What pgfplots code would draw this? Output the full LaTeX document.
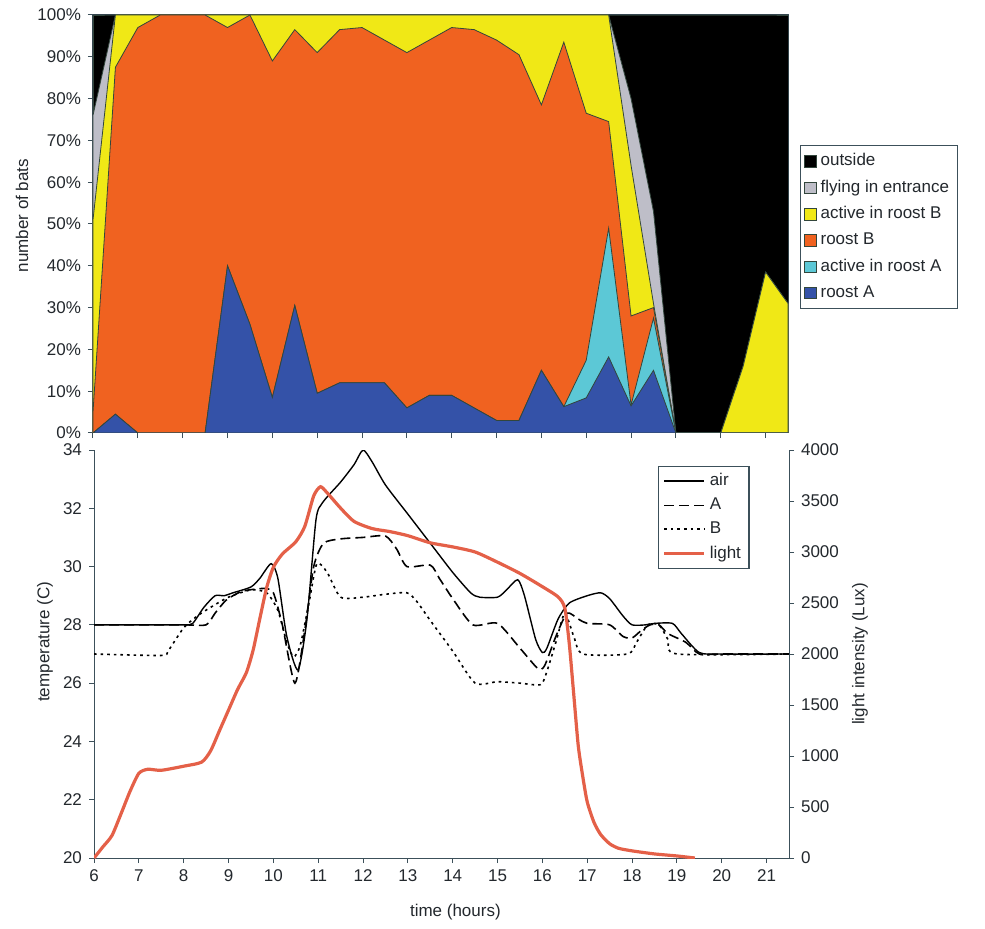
\documentclass[border=0pt]{standalone}
\usepackage{fontspec}
\setmainfont{Liberation Sans}
\usepackage{pgfplots}
\usepackage{pgfplotstable}
\pgfplotsset{compat=1.18}

\definecolor{outcol}{RGB}{0,0,0}
\definecolor{flycol}{RGB}{190,190,200}
\definecolor{actBcol}{RGB}{240,232,22}
\definecolor{roostBcol}{RGB}{240,98,32}
\definecolor{actAcol}{RGB}{92,200,214}
\definecolor{roostAcol}{RGB}{52,82,168}
\definecolor{edgecol}{RGB}{50,70,60}
\definecolor{axiscol}{RGB}{60,80,90}
\definecolor{textcol}{RGB}{35,40,45}
\definecolor{lightcol}{RGB}{228,96,72}

% cumulative boundaries of the stacked areas (percent of bats)
\pgfplotstableread{
x    out  fly   actB  rB    actA  rA
6    100  76    51    5     0     0
6.5  100  100   100   87.5  4.5   4.5
7    100  100   100   97    0     0
7.5  100  100   100   100   0     0
8    100  100   100   100   0     0
8.5  100  100   100   100   0     0
9    100  100   100   97    40    40
9.5  100  100   100   100   26    26
10   100  100   100   89    8.5   8.5
10.5 100  100   100   96.5  30.5  30.5
11   100  100   100   91    9.5   9.5
11.5 100  100   100   96.5  12    12
12   100  100   100   97    12    12
12.5 100  100   100   94    12    12
13   100  100   100   91    6     6
13.5 100  100   100   94    9     9
14   100  100   100   97    9     9
14.5 100  100   100   96.5  6     6
15   100  100   100   94    3     3
15.5 100  100   100   90.5  3     3
16   100  100   100   78.5  15    15
16.5 100  100   100   93.5  6.3   6.3
17   100  100   100   76.5  17.4  8.4
17.5 100  100   100   74.5  49    18.2
18   100  80    64    28    6.7   6.5
18.5 100  53    31    30    27.5  15
19   100  0     0     0     0     0
19.5 100  0     0     0     0     0
20   100  0     0     0     0     0
20.5 100  16    16    0     0     0
21   100  38.5  38.5  0     0     0
21.5 100  31    31    0     0     0
}\bats

\pgfplotstableread{
x T
6 28
7 28
8 28
8.2 28.05
8.45 28.6
8.7 29.0
8.9 29.0
9.1 29.1
9.5 29.3
9.7 29.6
9.95 30.1
10.1 29.6
10.3 27.6
10.55 26.45
10.75 28.2
10.95 31.6
11.1 32.2
11.5 32.9
11.8 33.5
12.0 34.0
12.2 33.6
12.5 32.8
13 31.8
13.5 30.8
14 29.8
14.4 29.1
14.6 28.95
15.0 28.95
15.2 29.2
15.45 29.55
15.6 29.0
15.85 27.5
16.0 27.05
16.1 27.2
16.35 28.2
16.6 28.75
17.0 29.0
17.3 29.1
17.5 28.9
17.8 28.3
18.0 28.0
18.3 28.0
18.5 28.05
18.9 28.05
19.1 27.7
19.5 27.05
20 27
21.5 27
}\airT

\pgfplotstableread{
x T
6 28
8 28
8.5 28.0
8.7 28.4
8.95 28.85
9.3 29.15
9.8 29.25
10.0 29.1
10.2 28.0
10.48 26.0
10.7 27.8
10.9 30.0
11.12 30.8
11.5 30.95
12.0 31.0
12.5 31.05
12.75 30.6
12.98 30.0
13.5 30.05
13.7 29.6
14.0 28.9
14.45 28.0
15.0 28.05
15.5 27.2
15.9 26.5
16.05 26.6
16.3 27.6
16.55 28.4
16.8 28.2
17.0 28.05
17.5 28.0
17.8 27.6
18.0 27.55
18.2 27.8
18.4 28.0
18.6 28.0
18.8 27.7
19.2 27.4
19.5 27.0
20 27
21.5 27
}\roostAT

\pgfplotstableread{
x T
6 27
7.5 26.95
7.65 27.1
8.0 27.9
8.3 28.3
8.6 28.6
9.0 28.95
9.5 29.2
9.85 29.1
10.1 28.5
10.3 27.4
10.45 26.9
10.6 27.3
10.8 28.8
10.97 30.1
11.2 29.8
11.5 28.95
12.0 28.95
12.5 29.05
12.98 29.1
13.2 28.8
13.5 28.15
14.0 27.1
14.5 26.0
15.0 26.05
15.5 26.0
15.96 25.95
16.1 26.4
16.3 27.4
16.5 28.4
16.7 27.6
16.9 27.0
17.9 27.0
18.1 27.4
18.35 28.0
18.6 28.0
18.8 27.5
19.0 27.0
21.5 27
}\roostBT

\pgfplotstableread{
x L
6.0 0
6.2 110
6.4 220
6.6 430
6.8 650
7.0 830
7.2 870
7.5 860
8.0 900
8.4 940
8.6 1050
8.8 1250
9.0 1450
9.2 1650
9.4 1820
9.55 2040
9.7 2350
9.85 2650
10.0 2850
10.2 2980
10.5 3100
10.7 3250
10.9 3550
11.05 3640
11.2 3580
11.5 3430
11.8 3300
12.2 3230
12.6 3200
13.0 3160
13.5 3090
14.0 3050
14.5 3000
15.0 2900
15.5 2790
16.0 2660
16.35 2560
16.5 2450
16.6 2100
16.7 1600
16.8 1100
16.9 800
17.0 550
17.15 350
17.3 230
17.5 140
17.7 95
18.0 70
18.5 40
19.0 20
19.4 0
}\lightdata

\pgfplotsset{
  every axis/.append style={
    scale only axis,
    anchor=south west,
    font=\fontsize{8.5}{10}\selectfont,
    /pgf/number format/assume math mode=true,
    /pgf/number format/1000 sep={},
    tick label style={text=textcol},
    label style={text=textcol},
    axis line style={axiscol, line width=0.5pt},
    major tick style={axiscol, line width=0.5pt},
    major tick length=2.5pt,
    tick align=outside,
    xmin=6, xmax=21.5,
  },
}

\begin{document}
\begin{tikzpicture}
\path[use as bounding box] (0,0) rectangle (492.5pt,464pt);

% stacked bat activity
\begin{axis}[
  at={(46.5pt,247.5pt)},
  width=347.5pt, height=209pt,
  ymin=0, ymax=100,
  xtick={6,...,21}, xticklabels={},
  ytick={0,10,...,100},
  yticklabel={\pgfmathprintnumber{\tick}\%},
  xtick pos=bottom, ytick pos=left,
  ylabel={number of bats},
  ylabel style={at={(axis description cs:-0.102,0.52)}, anchor=center},
  legend style={at={(1.017,0.689)}, anchor=north west,
    draw=axiscol, line width=0.6pt, text=textcol,
    font=\fontsize{8.5}{10}\selectfont,
    inner xsep=2pt, inner ysep=2pt, row sep=1.6pt,
    legend cell align=left},
  legend image code/.code={\draw[#1,draw=edgecol,line width=0.3pt] (0pt,-2.9pt) rectangle (5.8pt,2.9pt);},
]
  \addplot[fill=outcol, draw=edgecol, line width=0.4pt] table[x=x,y=out] {\bats} \closedcycle;
  \addlegendentry{outside}
  \addplot[fill=flycol, draw=edgecol, line width=0.4pt] table[x=x,y=fly] {\bats} \closedcycle;
  \addlegendentry{flying in entrance}
  \addplot[fill=actBcol, draw=edgecol, line width=0.4pt] table[x=x,y=actB] {\bats} \closedcycle;
  \addlegendentry{active in roost B}
  \addplot[fill=roostBcol, draw=edgecol, line width=0.4pt] table[x=x,y=rB] {\bats} \closedcycle;
  \addlegendentry{roost B}
  \addplot[fill=actAcol, draw=edgecol, line width=0.4pt] table[x=x,y=actA] {\bats} \closedcycle;
  \addlegendentry{active in roost A}
  \addplot[fill=roostAcol, draw=edgecol, line width=0.4pt] table[x=x,y=rA] {\bats} \closedcycle;
  \addlegendentry{roost A}
\end{axis}

% temperatures
\begin{axis}[
  at={(47pt,35pt)},
  width=347.5pt, height=204pt,
  ymin=20, ymax=34,
  axis x line*=bottom, axis y line*=left,
  xtick={6,...,21}, ytick={20,22,...,34},
  xlabel={time (hours)},
  xlabel style={at={(axis description cs:0.52,-0.132)}, anchor=center},
  ylabel={temperature (C)},
  ylabel style={at={(axis description cs:-0.0705,0.53)}, anchor=center},
]
  \addplot[black, line width=0.7pt, smooth, tension=0.4] table[x=x,y=T] {\airT};
  \addplot[black, line width=0.8pt, dash pattern=on 5pt off 2.5pt, smooth, tension=0.4] table[x=x,y=T] {\roostAT};
  \addplot[black, line width=0.8pt, dash pattern=on 1.3pt off 2pt, smooth, tension=0.4] table[x=x,y=T] {\roostBT};
\end{axis}

% light intensity
\begin{axis}[
  at={(47pt,35pt)},
  width=347.5pt, height=204pt,
  ymin=0, ymax=4000,
  axis y line*=right, axis x line=none,
  ytick={0,500,...,4000},
  ylabel={light intensity (Lux)},
  ylabel style={at={(axis description cs:1.102,0.50)}, anchor=center, rotate=0},
  legend style={at={(0.8115,0.961)}, anchor=north west,
    draw=axiscol, line width=0.6pt, text=textcol, fill=white,
    font=\fontsize{8.5}{10}\selectfont,
    inner xsep=2pt, inner ysep=1.5pt, row sep=0.6pt,
    legend cell align=left},
  legend image code/.code={\draw[#1] (0pt,0pt) -- (20pt,0pt);},
]
  \addlegendimage{black, line width=0.7pt}
  \addlegendentry{air}
  \addlegendimage{black, line width=0.8pt, dash pattern=on 5pt off 2.5pt}
  \addlegendentry{A}
  \addlegendimage{black, line width=0.8pt, dash pattern=on 1.3pt off 2pt}
  \addlegendentry{B}
  \addplot[lightcol, line width=1.6pt, smooth, tension=0.4] table[x=x,y=L] {\lightdata};
  \addlegendentry{light}
\end{axis}
\end{tikzpicture}
\end{document}
